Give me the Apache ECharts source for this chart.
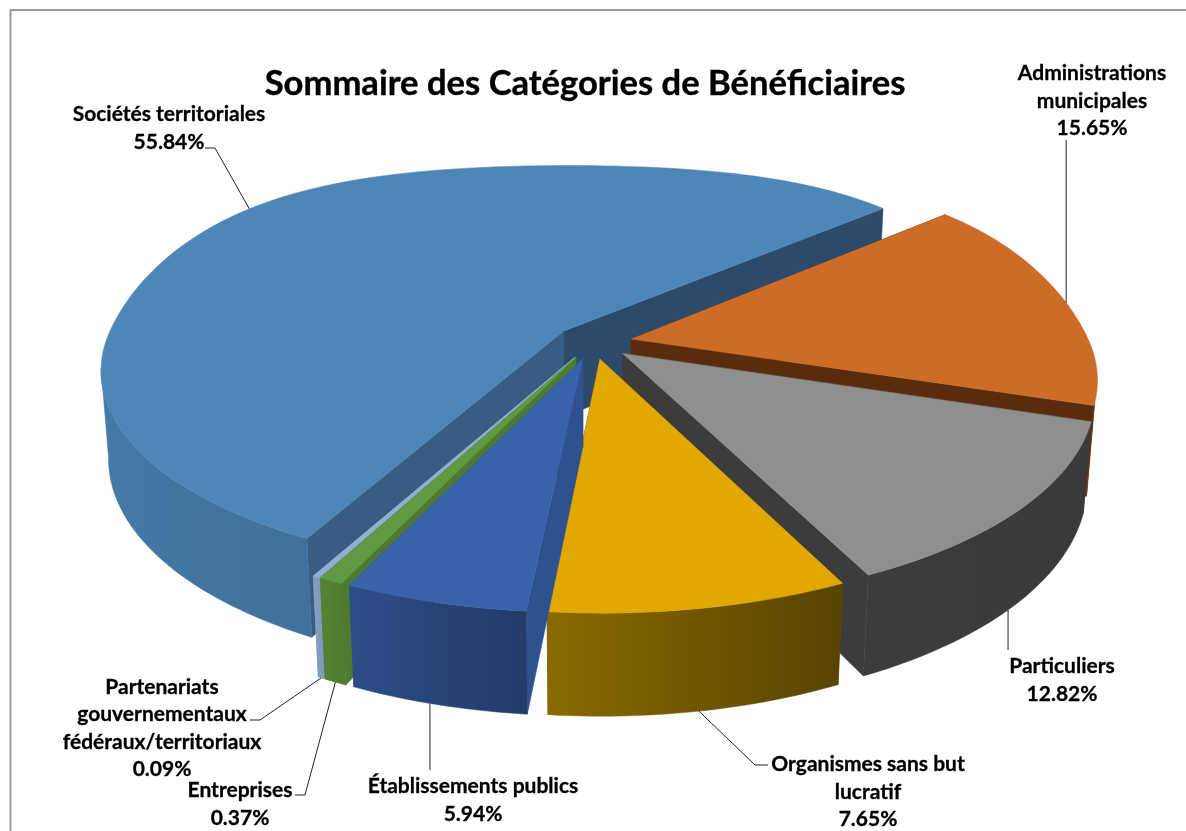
<!DOCTYPE html>
<html>
<head>
<meta charset="utf-8">
<title>Sommaire des Catégories de Bénéficiaires</title>
<script src="https://cdn.jsdelivr.net/npm/echarts@6/dist/echarts.min.js"></script>
<style>
  html, body { margin: 0; padding: 0; background: #fff; }
  #main { width: 1186px; height: 831px; }
</style>
</head>
<body>
<div id="main"></div>
<script>
// valeurs, dans le sens horaire du camembert
const categories = ['Administrations municipales', 'Particuliers', 'Organismes sans but lucratif',
  'Établissements publics', 'Entreprises', 'Partenariats gouvernementaux fédéraux/territoriaux', 'Sociétés territoriales'];
// largeur des parts estimée sur l'image : elle s'écarte un peu des étiquettes, qui ne totalisent que 98.76
const values = [15.65, 12.82, 8.6, 5.25, 0.7, 0.2, 56.78];
const labelLines = [
  ['Administrations', 'municipales', '15.65%'],
  ['Particuliers', '12.82%'],
  ['Organismes sans but', 'lucratif', '7.65%'],
  ['Établissements publics', '5.94%'],
  ['Entreprises', '0.37%'],
  ['Partenariats', 'gouvernementaux', 'fédéraux/territoriaux', '0.09%'],
  ['Sociétés territoriales', '55.84%']
];

// couleurs : dessus, face de départ, face de fin, paroi (gauche, droite)
const sliceColors = [
  { top: '#cd6b28', a: '#592c0d', b: '#592c0d', wall: ['#6b3510', '#592c0d'] },
  { top: '#8f8f8f', a: '#3c3c3c', b: '#3c3c3c', wall: ['#3c3c3c', '#3a3a3a'] },
  { top: '#e0a800', a: '#6b5200', b: '#5a4500', wall: ['#8a6a00', '#574300'] },
  { top: '#3a62aa', a: '#2e5290', b: '#2e5290', wall: ['#2d4d88', '#233c68'] },
  { top: '#5f9a40', a: '#4c7a30', b: '#4c7a30', wall: ['#538432', '#4c7a30'] },
  { top: '#8fb0d4', a: '#7d98bd', b: '#7d98bd', wall: ['#86a0c4', '#7d98bd'] },
  { top: '#4f86b8', a: '#375d82', b: '#2c4a6b', wall: ['#4679a6', '#40709c'] }
];
// ordre de peinture, du fond vers l'avant
const paintOrder = [6, 0, 1, 2, 5, 4, 3];

// géométrie de la vue
const view = { cx: 593, cy: 342, R: 458, K: 200, persp: 0.185, depth: 88, shrink: 0.015, explode: 39, start: 52, bulge: 0.24 };
const wallFrom = 107.5, wallTo = 259.4;

// position des textes et des traits de rappel (x null : même x que le point d'ancrage)
const labelPos = [[1092, 101], [1062, 680], [868, 792], [473, 800], [240, 804], [162, 728], [169, 128]];
const leaderAt = [
  { z: 0, skew: 1, pts: [[null, 140]] },
  { z: 1, skew: 1.5, pts: [[null, 650]] },
  { z: 1, skew: 0, pts: [[755, 765], [768, 765]] },
  { z: 1, skew: 0.8, pts: [[null, 770]] },
  { z: 1, skew: 0, pts: [[305, 795], [295, 795]] },
  { z: 1, skew: 0, pts: [[260, 720], [250, 720]] },
  { z: 0, skew: -2, pts: [[215, 148], [205, 148]] }
];

const total = values.reduce((s, v) => s + v, 0);
const rad = d => d * Math.PI / 180;

function sliceAngles(i) {
  let a = view.start;
  for (let k = 0; k < i; k++) a += values[k] / total * 360;
  return [a, a + values[i] / total * 360];
}

// projection d'un point du camembert (rayon 0..1, angle horaire depuis le haut, z 0..1)
function project(mid, r, deg, z) {
  const e = view.explode / view.R;
  const cos = Math.cos(rad(deg)), sin = Math.sin(rad(deg));
  // le bord arrière de l'original est plus plat qu'une ellipse
  const far = cos > 0 ? cos * (1 + view.bulge * sin * sin) : cos;
  const xn = e * Math.sin(rad(mid)) + r * sin;
  const yn = e * Math.cos(rad(mid)) + r * far;
  const s = 1 / (1 + view.persp * yn + view.shrink * z);
  return [view.cx + xn * view.R * s, view.cy - yn * view.K * s + z * view.depth * s];
}

function arc(mid, from, to, z) {
  const pts = [];
  const n = Math.max(2, Math.ceil((to - from) / 1.5));
  for (let k = 0; k <= n; k++) pts.push(project(mid, 1, from + (to - from) * k / n, z));
  return pts;
}

function renderSlice(params, api) {
  const i = params.dataIndex;
  const c = sliceColors[i];
  const [a0, a1] = sliceAngles(i);
  const mid = (a0 + a1) / 2;
  const z2 = paintOrder.indexOf(i) * 10;
  const children = [];
  const poly = (points, fill, level) => children.push({
    type: 'polygon', shape: { points }, z2: z2 + level,
    style: { fill, stroke: fill, lineWidth: 0.5 }
  });

  const face = deg => [project(mid, 0, deg, 0), project(mid, 1, deg, 0), project(mid, 1, deg, 1), project(mid, 0, deg, 1)];
  poly(face(a0), c.a, 0);
  poly(face(a1), c.b, 1);

  const w0 = Math.max(a0, wallFrom), w1 = Math.min(a1, wallTo);
  if (w1 > w0) {
    const wall = arc(mid, w0, w1, 0).concat(arc(mid, w0, w1, 1).reverse());
    const grad = new echarts.graphic.LinearGradient(0, 0, 1, 0, [
      { offset: 0, color: c.wall[0] }, { offset: 1, color: c.wall[1] }
    ]);
    poly(wall, grad, 2);
  }
  poly([project(mid, 0, a0, 0)].concat(arc(mid, a0, a1, 0)), c.top, 3);

  // trait de rappel et étiquette, au-dessus de tout
  const l = leaderAt[i];
  const anchor = project(mid, 1, mid + l.skew, l.z);
  children.push({
    type: 'polyline', z2: 200,
    shape: { points: [anchor].concat(l.pts.map(p => [p[0] === null ? anchor[0] : p[0], p[1]])) },
    style: { fill: null, stroke: '#222', lineWidth: 1 }
  });
  children.push({
    type: 'text', z2: 201, x: labelPos[i][0], y: labelPos[i][1],
    style: {
      text: labelLines[i].join('\n'), fill: '#000', stroke: '#000', lineWidth: 0.3,
      align: 'center', verticalAlign: 'middle', font: 'bold 21px Lato', lineHeight: 27.5
    }
  });
  return { type: 'group', children };
}

const chart = echarts.init(document.getElementById('main'), null, { renderer: 'canvas' });
chart.setOption({
  animation: false,
  backgroundColor: '#fff',
  title: {
    text: 'Sommaire des Catégories de Bénéficiaires',
    left: 580, top: 61, textAlign: 'center',
    textStyle: { color: '#000', fontFamily: 'Lato', fontWeight: 'bold', fontSize: 34.6, textBorderColor: '#000', textBorderWidth: 0.4 }
  },
  graphic: [{
    type: 'rect', silent: true, z: -1,
    shape: { x: 10.5, y: 10, width: 1300, height: 900 },
    style: { fill: '#fff', stroke: '#999', lineWidth: 2 }
  }],
  series: [{
    type: 'custom',
    coordinateSystem: 'none',
    renderItem: renderSlice,
    data: categories.map((name, i) => ({ name, value: [i, values[i]] }))
  }]
});
</script>
</body>
</html>
